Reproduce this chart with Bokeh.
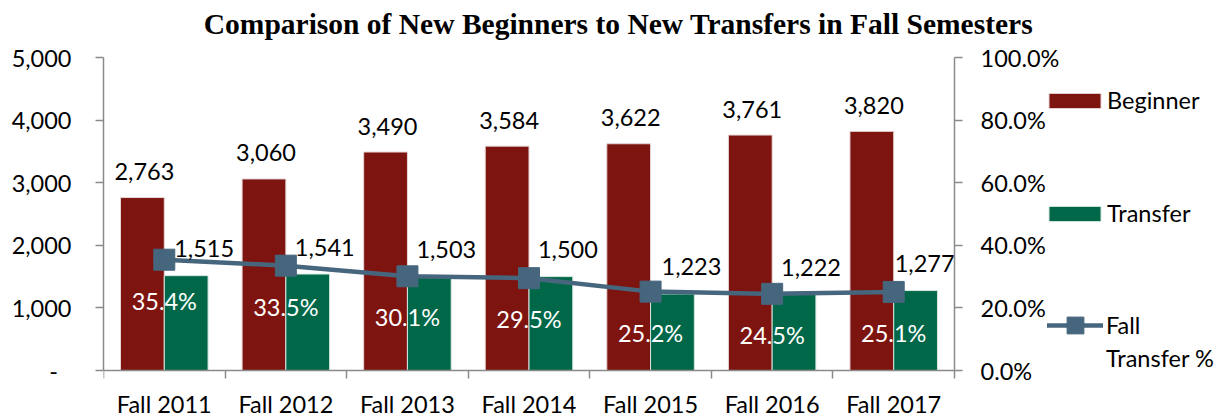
from bokeh.plotting import figure
from bokeh.models import (ColumnDataSource, Range1d, LinearAxis, FixedTicker,
                          NumeralTickFormatter, Legend, LegendItem, Label)
from bokeh.transform import dodge
from bokeh.core.properties import value
from bokeh.embed import file_html
from bokeh.resources import INLINE

semesters = ["Fall 2011", "Fall 2012", "Fall 2013", "Fall 2014", "Fall 2015", "Fall 2016", "Fall 2017"]
beginner = [2763, 3060, 3490, 3584, 3622, 3761, 3820]
transfer = [1515, 1541, 1503, 1500, 1223, 1222, 1277]
transfer_pct = [0.354, 0.335, 0.301, 0.295, 0.252, 0.245, 0.251]
count_ticks = [0, 1000, 2000, 3000, 4000, 5000]
pct_ticks = [0, 0.2, 0.4, 0.6, 0.8, 1.0]

# label nudges (screen px) for the transfer value labels, as placed in the original
transfer_label_dx = [18, 17, 17, 17, 19, 17, 9]

TITLE = "Comparison of New Beginners to New Transfers in Fall Semesters"
BEG_C = "#7e1410"
TRA_C = "#006848"
LINE_C = "#46667e"
AXIS_C = "#8a8a8a"
FONT = "Lato"
FS = "23.5px"

# layout (pixels)
W, H = 1221, 416
PLOT_L, PLOT_R, PLOT_T, PLOT_B = 103, 954, 57, 370

n = len(semesters)
xs = [i + 0.5 for i in range(n)]
src = ColumnDataSource(dict(
    x=xs, sem=semesters, beg=beginner, tra=transfer, pct=transfer_pct,
    beg_lbl=[f"{v:,}" for v in beginner],
    tra_lbl=[f"{v:,}" for v in transfer],
    pct_lbl=[f"{v * 100:.1f}%" for v in transfer_pct],
    tra_dx=transfer_label_dx,
))

# the frame spans the whole canvas right of the left axis; the data area is a part of it
x_end = n * (W - PLOT_L) / (PLOT_R - PLOT_L)
ph = PLOT_B - PLOT_T
lo_frac, hi_frac = -(H - PLOT_B) / ph, 1 + PLOT_T / ph
p = figure(width=W, height=H, x_range=Range1d(0, x_end),
           y_range=Range1d(count_ticks[-1] * lo_frac, count_ticks[-1] * hi_frac),
           output_backend="svg", toolbar_location=None,
           min_border_left=PLOT_L, min_border_right=0, min_border_top=0, min_border_bottom=0)
p.outline_line_color = None
p.xgrid.visible = False
p.ygrid.visible = False
p.extra_y_ranges = {"pct": Range1d(pct_ticks[-1] * lo_frac, pct_ticks[-1] * hi_frac)}

# x axis: labels at category centres, tick marks between categories
xa = p.xaxis[0]
xa.fixed_location = 0
xa.bounds = (0, n)
xa.ticker = FixedTicker(ticks=xs, minor_ticks=list(range(n + 1)))
xa.major_label_overrides = {x: s for x, s in zip(xs, semesters)}
xa.major_tick_out = 0
xa.major_tick_in = 0
xa.minor_tick_out = 8
xa.minor_tick_in = 0
xa.minor_tick_line_color = AXIS_C
xa.minor_tick_line_width = 1.5
xa.axis_line_color = AXIS_C
xa.axis_line_width = 1.5
xa.major_label_standoff = 11
xa.major_label_text_font = FONT
xa.major_label_text_font_size = FS
xa.major_label_text_color = "black"

# left axis
ya = p.yaxis[0]
ya.bounds = (count_ticks[0], count_ticks[-1])
ya.ticker = FixedTicker(ticks=count_ticks)
ya.formatter = NumeralTickFormatter(format="0,0")
ya.major_label_overrides = {0: "-\u2007"}
ya.major_tick_out = 8
ya.major_tick_in = 0
ya.minor_tick_line_color = None
ya.major_tick_line_color = AXIS_C
ya.major_tick_line_width = 1.5
ya.axis_line_color = AXIS_C
ya.axis_line_width = 1.5
ya.major_label_standoff = 24
ya.major_label_text_font = FONT
ya.major_label_text_font_size = FS
ya.major_label_text_color = "black"

# right axis, drawn at the right end of the categories
ra = LinearAxis(y_range_name="pct", ticker=FixedTicker(ticks=pct_ticks),
                formatter=NumeralTickFormatter(format="0.0%"),
                fixed_location=n, bounds=(pct_ticks[0], pct_ticks[-1]))
ra.major_tick_out = 8
ra.major_tick_in = 0
ra.minor_tick_line_color = None
ra.major_tick_line_color = AXIS_C
ra.major_tick_line_width = 1.5
ra.axis_line_color = AXIS_C
ra.axis_line_width = 1.5
ra.major_label_standoff = 18
ra.major_label_text_font = FONT
ra.major_label_text_font_size = FS
ra.major_label_text_color = "black"
p.add_layout(ra, "right")

bw = 0.36
rb = p.vbar(x=dodge("x", -bw / 2, range=p.x_range), top="beg", width=bw, source=src,
            fill_color=BEG_C, line_color="#e6d6d6", line_width=1)
rt = p.vbar(x=dodge("x", bw / 2, range=p.x_range), top="tra", width=bw, source=src,
            fill_color=TRA_C, line_color="#d6e6de", line_width=1)
rl = p.line(x="x", y="pct", source=src, y_range_name="pct", line_color=LINE_C, line_width=4.5,
            line_cap="round", line_join="round")
rs = p.scatter(x="x", y="pct", source=src, y_range_name="pct", marker="square", size=21,
               fill_color=LINE_C, line_color=LINE_C)

p.text(x=dodge("x", -bw / 2, range=p.x_range), y="beg", text="beg_lbl", source=src,
       text_align="center", text_baseline="middle", x_offset=2, y_offset=-26,
       text_font=value(FONT), text_font_size=FS, text_color="black")
p.text(x=dodge("x", bw / 2, range=p.x_range), y="tra", text="tra_lbl", source=src,
       text_align="center", text_baseline="middle", x_offset="tra_dx", y_offset=-27,
       text_font=value(FONT), text_font_size=FS, text_color="black")
p.text(x="x", y="pct", text="pct_lbl", source=src, y_range_name="pct",
       text_align="center", text_baseline="middle", y_offset=41,
       text_font=value(FONT), text_font_size=FS, text_color="white")

# title
p.add_layout(Label(x=618 - PLOT_L, y=H - 23, x_units="screen", y_units="screen",
                   text=TITLE, text_align="center", text_baseline="alphabetic",
                   text_font="Liberation Serif", text_font_style="bold",
                   text_font_size="29.5px", text_color="black"))

# legends
legend_style = dict(orientation="vertical", padding=0, margin=0, border_line_color=None,
                    background_fill_alpha=0, label_text_font=FONT,
                    label_text_font_size=FS, label_text_color="black")
leg_a = Legend(items=[LegendItem(label="Beginner", renderers=[rb]),
                      LegendItem(label="Transfer", renderers=[rt])],
               location=(1042 - PLOT_L, 143 + H - PLOT_B), glyph_width=65, glyph_height=19,
               label_standoff=0, spacing=85, **legend_style)
leg_b = Legend(items=[LegendItem(label="Fall", renderers=[rl, rs])],
               location=(1047 - PLOT_L, H - 346), glyph_width=56, glyph_height=42,
               label_standoff=3, **legend_style)
leg_c = Legend(items=[LegendItem(label="Transfer %", renderers=[])],
               location=(1106 - PLOT_L, H - 372), glyph_width=0, glyph_height=20,
               label_standoff=0, **legend_style)
p.add_layout(leg_a, "center")
p.add_layout(leg_b, "center")
p.add_layout(leg_c, "center")

open("out.html", "w").write(file_html(p, INLINE))
